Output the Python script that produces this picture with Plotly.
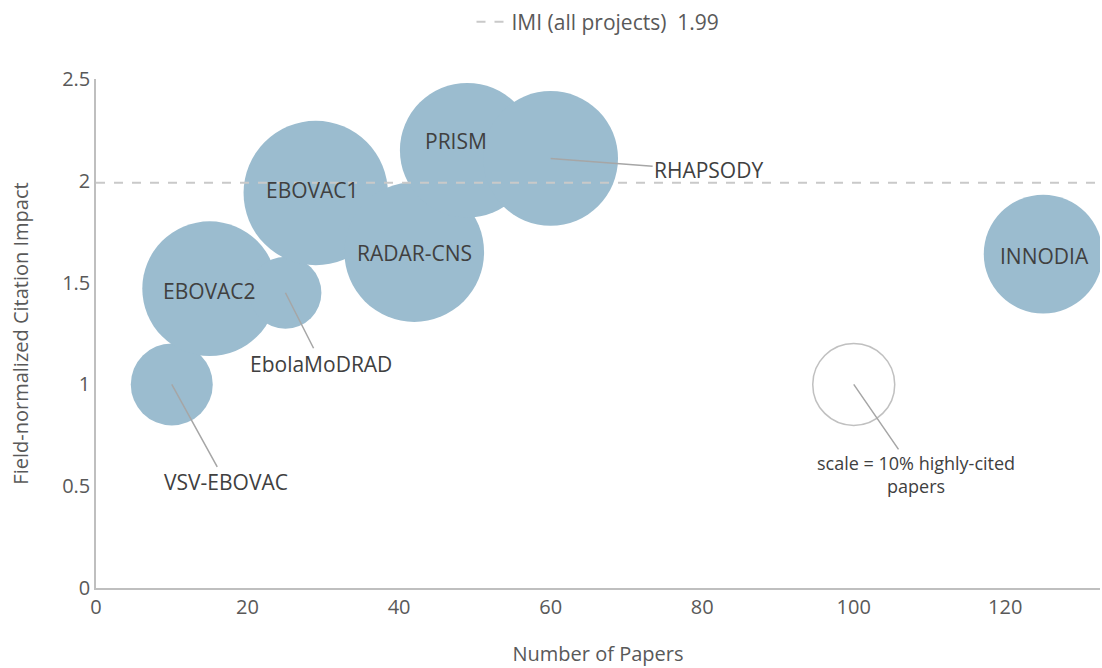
import plotly.graph_objects as go

# project bubbles
projects = ['VSV-EBOVAC', 'EBOVAC2', 'EbolaMoDRAD', 'EBOVAC1', 'RADAR-CNS', 'PRISM', 'RHAPSODY', 'INNODIA']
papers = [10, 15, 25, 29, 42, 49, 60, 125]
fci = [1.00, 1.47, 1.45, 1.94, 1.65, 2.15, 2.11, 1.64]
pct_highly_cited = [10, 27, 7.7, 31, 29, 27, 27, 21]

# scale reference bubble
scale_x = [100]
scale_y = [1.0]
scale_size = [10]

imi_value = 1.99
x_max = 132.5

xticks = [0, 20, 40, 60, 80, 100, 120]
yticks = [0, 0.5, 1, 1.5, 2, 2.5]
ytick_text = ['0', '0.5', '1', '1.5', '2', '2.5']

BUBBLE = '#9bbccf'
TEXT = '#404040'
TICK = '#595959'
FONT = 'Open Sans'

sizeref = 2 * 10 / 82 ** 2  # 10% -> 82px diameter

fig = go.Figure()

fig.add_trace(go.Scatter(
    x=papers, y=fci, mode='markers', showlegend=False, hoverinfo='text', text=projects,
    marker=dict(size=pct_highly_cited, sizemode='area', sizeref=sizeref,
                color=BUBBLE, opacity=1, line=dict(width=0))))

fig.add_trace(go.Scatter(
    x=scale_x, y=scale_y, mode='markers', showlegend=False, hoverinfo='skip',
    marker=dict(size=scale_size, sizemode='area', sizeref=sizeref,
                color='rgba(0,0,0,0)', line=dict(width=1.5, color='#a6a6a6'))))

fig.add_trace(go.Scatter(
    x=[0, x_max], y=[imi_value, imi_value], mode='lines',
    name=f'IMI (all projects)  {imi_value}', hoverinfo='skip',
    line=dict(color='#c9c9c9', width=2, dash='dash')))

# label placement: (dx, dy) pixel offset, arrow?
label_pos = {
    'VSV-EBOVAC': (54, 98, True),
    'EBOVAC2': (0, 2, False),
    'EbolaMoDRAD': (36, 71, True),
    'EBOVAC1': (-3, -3, False),
    'RADAR-CNS': (0, 1, False),
    'PRISM': (-11, -9, False),
    'RHAPSODY': (158, 12, True),
    'INNODIA': (1, 2, False),
}

for name, xv, yv in zip(projects, papers, fci):
    dx, dy, arrow = label_pos[name]
    fig.add_annotation(x=xv, y=yv, text=name, ax=dx, ay=dy, showarrow=True,
                       arrowhead=0, arrowwidth=1.5 if arrow else 0.1,
                       arrowcolor='#a6a6a6' if arrow else 'rgba(0,0,0,0)',
                       font=dict(family=FONT, size=21, color=TEXT))

fig.add_annotation(x=scale_x[0], y=scale_y[0], text='scale = 10% highly-cited<br>papers',
                   ax=62, ay=90, showarrow=True, arrowhead=0, arrowwidth=1.5,
                   arrowcolor='#a6a6a6', font=dict(family=FONT, size=18, color=TEXT))

fig.update_layout(
    width=1102, height=668,
    margin=dict(l=96, r=2, t=76, b=80),
    paper_bgcolor='white', plot_bgcolor='white',
    font=dict(family=FONT, size=20, color=TICK),
    legend=dict(orientation='h', x=0.5, xanchor='center', y=1.112, yanchor='middle',
                font=dict(family=FONT, size=21, color=TICK)),
    xaxis=dict(range=[0, x_max], tickvals=xticks, showgrid=False, zeroline=False,
               showline=True, linecolor='#bfbfbf', linewidth=1.5, ticks='', ticklen=0,
               automargin=False, tickfont=dict(size=20),
               title=dict(text='Number of Papers', standoff=28,
                          font=dict(family=FONT, size=20, color=TICK))),
    yaxis=dict(range=[0, 2.5], tickvals=yticks, ticktext=ytick_text, showgrid=False,
               zeroline=False, showline=True, linecolor='#bfbfbf', linewidth=1.5,
               ticks='', automargin=False, tickfont=dict(size=20),
               title=dict(text='Field-normalized Citation Impact', standoff=28,
                          font=dict(family=FONT, size=20, color=TICK))),
)

# drop the default 8px body margin so the figure sits at the window origin
fig.write_html("out.html", config={'displayModeBar': False},
               post_script="document.body.style.margin='0';")
